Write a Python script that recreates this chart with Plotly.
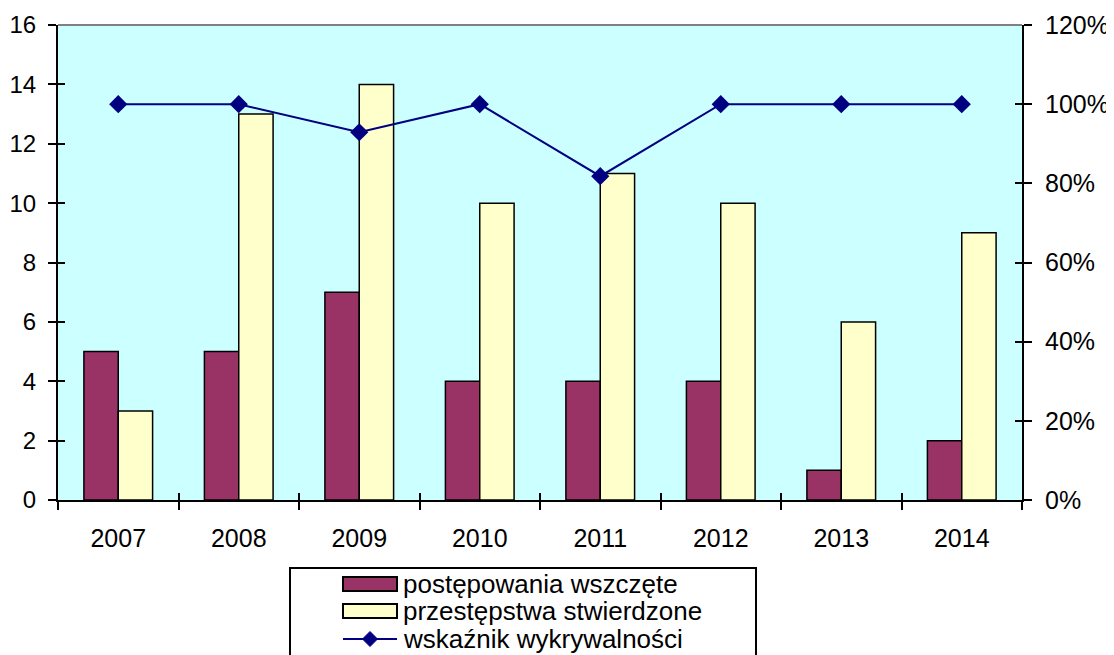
import plotly.graph_objects as go

years = ["2007", "2008", "2009", "2010", "2011", "2012", "2013", "2014"]
postepowania = [5, 5, 7, 4, 4, 4, 1, 2]
przestepstwa = [3, 13, 14, 10, 11, 10, 6, 9]
wskaznik = [1.0, 1.0, 0.929, 1.0, 0.818, 1.0, 1.0, 1.0]
names = ["postępowania wszczęte", "przestępstwa stwierdzone", "wskaźnik wykrywalności"]

FONT = "Arial, Liberation Sans, sans-serif"
OFF = 8  # page body margin in the browser
W, H = 1114, 655
# plot area in viewport pixels: x 58..1022, y 25..500
L = 58 - OFF
T = 25 - OFF
R = W - (1022 - OFF)
B = H - (500 - OFF)
PW, PH = W - L - R, H - T - B
MAROON, CREAM, NAVY = "#993366", "#FFFFCC", "#000080"


def px(xv):
    return (xv - OFF - L) / PW


def py(yv):
    return (H - B - (yv - OFF)) / PH


fig = go.Figure()
fig.add_trace(go.Bar(x=years, y=postepowania, name=names[0], showlegend=False,
                     marker=dict(color=MAROON, line=dict(color="black", width=1.5))))
fig.add_trace(go.Bar(x=years, y=przestepstwa, name=names[1], showlegend=False,
                     marker=dict(color=CREAM, line=dict(color="black", width=1.5))))
fig.add_trace(go.Scatter(x=years, y=wskaznik, name=names[2], yaxis="y2", showlegend=False,
                         mode="lines+markers",
                         line=dict(color=NAVY, width=2),
                         marker=dict(symbol="diamond", size=14, color=NAVY)))
# empty helper traces so the inside-tick overlay axes are drawn
fig.add_trace(go.Scatter(x=[], y=[], xaxis="x2", yaxis="y3", showlegend=False, hoverinfo="skip"))
fig.add_trace(go.Scatter(x=[], y=[], xaxis="x2", yaxis="y4", showlegend=False, hoverinfo="skip"))

base = dict(tickcolor="black", tickwidth=2, showgrid=False, zeroline=False, automargin=False)


def tf(size):
    return dict(size=size, family=FONT, color="black")


fig.update_layout(
    width=W, height=H,
    margin=dict(l=L, r=R, t=T, b=B, autoexpand=False),
    paper_bgcolor="white", plot_bgcolor="#CCFFFF",
    font=dict(family=FONT, size=25, color="black"),
    barmode="group", bargap=0.43, bargroupgap=0,
    showlegend=False,
    xaxis=dict(type="category", tickson="boundaries", ticks="outside", ticklen=8,
               showline=True, linecolor="black", linewidth=2, ticklabelstandoff=15,
               tickfont=tf(25), **base),
    xaxis2=dict(overlaying="x", range=[-0.5, 7.5], tick0=-0.5, dtick=1, ticks="inside",
                ticklen=7, showticklabels=False, showline=False, anchor="y",
                side="bottom", **base),
    yaxis=dict(range=[0, 16], dtick=2, ticks="outside", ticklen=8,
               showline=True, linecolor="black", linewidth=2, ticklabelstandoff=7,
               tickfont=tf(24), **base),
    yaxis2=dict(range=[0, 1.2], dtick=0.2, tickformat=".0%", overlaying="y", side="right",
                ticks="outside", ticklen=8, showline=True, linecolor="black",
                linewidth=2, ticklabelstandoff=8, tickfont=tf(25), **base),
    yaxis3=dict(range=[0, 16], dtick=2, overlaying="y", side="left", anchor="x",
                ticks="inside", ticklen=7, showticklabels=False, showline=False, **base),
    yaxis4=dict(range=[0, 1.2], dtick=0.2, overlaying="y", side="right", anchor="x",
                ticks="inside", ticklen=7, showticklabels=False, showline=False, **base),
)

shapes = [dict(type="line", xref="paper", yref="paper", x0=0, x1=1, y0=1, y1=1,
               line=dict(color="#808080", width=2))]
# legend box
shapes.append(dict(type="rect", xref="paper", yref="paper", x0=px(290), x1=px(756),
                   y0=py(568), y1=py(675), line=dict(color="black", width=2),
                   fillcolor="white", layer="above"))
row_y = [584, 611, 639]
shapes.append(dict(type="rect", xref="paper", yref="paper", x0=px(343), x1=px(397),
                   y0=py(row_y[0] - 7), y1=py(row_y[0] + 7),
                   fillcolor=MAROON, line=dict(color="black", width=2), layer="above"))
shapes.append(dict(type="rect", xref="paper", yref="paper", x0=px(343), x1=px(397),
                   y0=py(row_y[1] - 7), y1=py(row_y[1] + 7),
                   fillcolor=CREAM, line=dict(color="black", width=2), layer="above"))
shapes.append(dict(type="line", xref="paper", yref="paper", x0=px(343), x1=px(397),
                   y0=py(row_y[2]), y1=py(row_y[2]),
                   line=dict(color=NAVY, width=2), layer="above"))
cx, cy, d = 370, row_y[2], 7.5
shapes.append(dict(type="path", xref="paper", yref="paper", layer="above",
                   path=f"M {px(cx - d)} {py(cy)} L {px(cx)} {py(cy - d)} "
                        f"L {px(cx + d)} {py(cy)} L {px(cx)} {py(cy + d)} Z",
                   fillcolor=NAVY, line=dict(color=NAVY, width=1)))

annotations = []
for name, yy in zip(names, row_y):
    annotations.append(dict(text=name, xref="paper", yref="paper", x=px(401), y=py(yy),
                            xanchor="left", yanchor="middle", showarrow=False,
                            font=tf(26)))

fig.update_layout(shapes=shapes, annotations=annotations)
fig.write_html("out.html")
